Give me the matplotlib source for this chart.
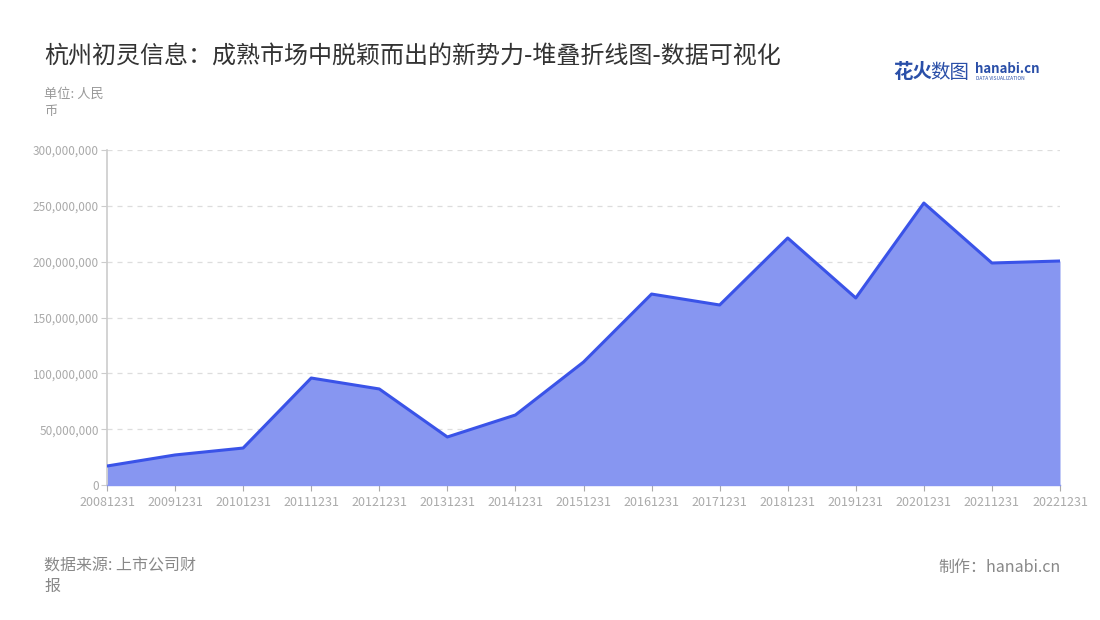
import matplotlib
matplotlib.use("Agg")
import matplotlib.pyplot as plt
from matplotlib.ticker import FuncFormatter, FixedLocator

plt.rcParams['font.family'] = ['Noto Sans CJK SC', 'DejaVu Sans']

dates = ["20081231", "20091231", "20101231", "20111231", "20121231", "20131231",
         "20141231", "20151231", "20161231", "20171231", "20181231", "20191231",
         "20201231", "20211231", "20221231"]
revenue = [17.0e6, 26.9e6, 33.1e6, 95.8e6, 86.0e6, 43.0e6, 62.7e6, 110.1e6,
           171.0e6, 161.2e6, 221.2e6, 167.5e6, 252.5e6, 198.8e6, 200.6e6]
y_ticks = [0, 50e6, 100e6, 150e6, 200e6, 250e6, 300e6]

title = "杭州初灵信息：成熟市场中脱颖而出的新势力-堆叠折线图-数据可视化"
unit_text = "单位: 人民\n币"
source_text = "数据来源: 上市公司财\n报"
credit_text = "制作：hanabi.cn"

fig = plt.figure(figsize=(11, 6.2), dpi=100)
ax = fig.add_axes([107/1100, 1-485/620, (1060-107)/1100, (485-150)/620])

x = list(range(len(dates)))
ax.fill_between(x, revenue, 0, color="#8796F1", alpha=1.0, linewidth=0, zorder=2)
ax.plot(x, revenue, color="#3A53E8", linewidth=2.2, zorder=3)

ax.set_xlim(0, len(dates)-1)
ax.set_ylim(0, 300e6)
ax.set_xticks(x)
ax.set_xticklabels(dates)
ax.yaxis.set_major_locator(FixedLocator(y_ticks))
ax.yaxis.set_major_formatter(FuncFormatter(lambda v, p: f"{int(v):,}"))

ax.grid(axis='y', color="#DDDDDD", linestyle=(0, (4, 4)), linewidth=0.9, zorder=0)
for s in ["top", "right"]:
    ax.spines[s].set_visible(False)
ax.spines["left"].set_color("#CCCCCC")
ax.spines["left"].set_linewidth(1.2)
ax.spines["bottom"].set_color("#8796F1")
ax.spines["bottom"].set_linewidth(1.0)
ax.tick_params(axis='x', colors="#AAAAAA", labelsize=9, length=4, width=0.8, pad=4, labelcolor="#AAAAAA")
ax.tick_params(axis='y', colors="#CCCCCC", labelsize=8.5, length=4, width=0.8, pad=2, labelcolor="#AAAAAA")

fig.text(44/1100, 1-56/620, title, fontsize=17.3, color="#333333", va="center", ha="left")
fig.text(44/1100, 1-88/620, unit_text, fontsize=9.5, color="#999999", va="top", ha="left", linespacing=1.4)
fig.text(44/1100, 1-557/620, source_text, fontsize=11.5, color="#888888", va="top", ha="left", linespacing=1.3)
fig.text(1061/1100, 1-567/620, credit_text, fontsize=11.5, color="#888888", va="center", ha="right")

# logo
fig.text(893/1100, 1-72/620, "花火", fontsize=14, color="#2A4FA8", fontweight="bold", va="center", ha="left")
fig.text(930/1100, 1-72/620, "数图", fontsize=14, color="#2A4FA8", va="center", ha="left")
fig.text(975/1100, 1-69/620, "hanabi.cn", fontsize=9.5, color="#2A4FA8", fontweight="bold", va="center", ha="left")
fig.text(976/1100, 1-79/620, "DATA VISUALIZATION", fontsize=3.5, color="#2A4FA8", va="center", ha="left")

fig.savefig("out.png", dpi=100, facecolor="white")
